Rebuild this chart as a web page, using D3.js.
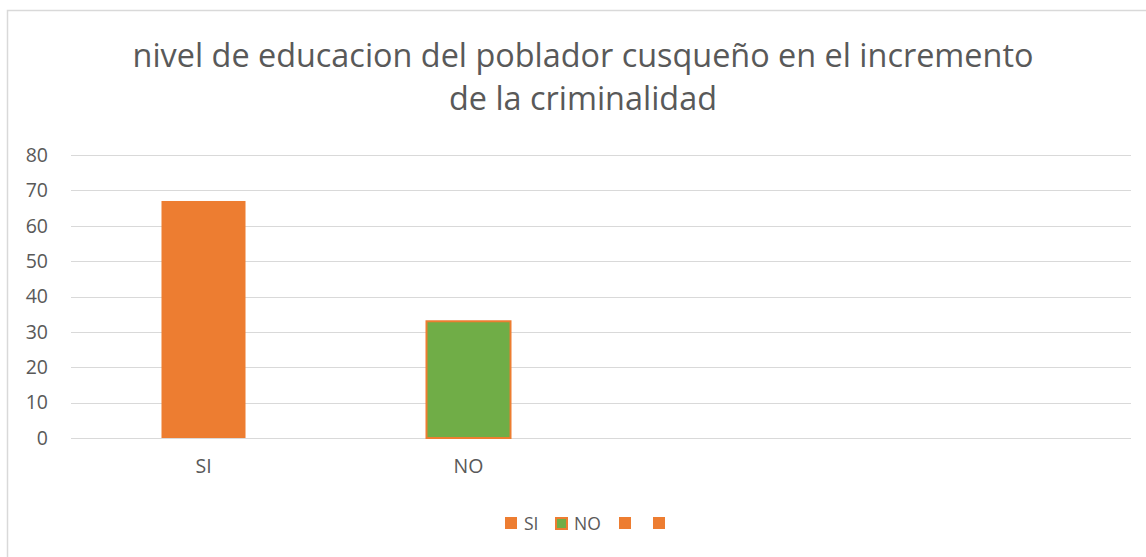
<!DOCTYPE html>
<html>
<head>
<meta charset="utf-8">
<script src="https://cdn.jsdelivr.net/npm/d3@7"></script>
<style>
  body { margin: 0; background: #fff; }
  text { font-family: "Open Sans", sans-serif; fill: #595959; }
</style>
</head>
<body>
<div id="chartDiv"></div>
<script>
var categories = ["SI", "NO", "", ""];
var values = [67, 33, null, null];
var barColors = ["#ED7D31", "#70AD47", "#ED7D31", "#ED7D31"];
var legendLabels = ["SI", "NO", "", ""];
var yTicks = [0, 10, 20, 30, 40, 50, 60, 70, 80];
var titleLines = ["nivel de educacion del poblador cusqueño en el incremento", "de la criminalidad"];

var svg = d3.select("#chartDiv").append("svg")
    .attr("width", 1146)
    .attr("height", 557);

var margin = {top: 155, right: 15, bottom: 119, left: 71};
var width = 1146 - margin.left - margin.right,
    height = 557 - margin.top - margin.bottom;

// chart border
svg.append("rect")
    .attr("x", 7.5).attr("y", 10.5)
    .attr("width", 1160).attr("height", 560)
    .attr("fill", "none")
    .attr("stroke", "#D9D9D9")
    .attr("stroke-width", 1.5);

// title
svg.append("g").selectAll("text").data(titleLines).enter()
    .append("text")
    .attr("x", 583)
    .attr("y", function(d, i) { return 67 + i * 43; })
    .attr("text-anchor", "middle")
    .style("font-size", "32.4px")
    .text(function(d) { return d; });

var chart_svg = svg.append("g")
    .attr("transform", "translate(" + margin.left + "," + margin.top + ")");

var x_scale = d3.scaleBand()
    .domain(d3.range(categories.length))
    .range([0, width])
    .paddingInner(0.683)
    .paddingOuter(0.3415);

var y_scale = d3.scaleLinear()
    .domain([0, 80])
    .range([height, 0]);

// gridlines
chart_svg.append("g").selectAll("line").data(yTicks).enter()
    .append("line")
    .attr("x1", 0).attr("x2", width)
    .attr("y1", function(d) { return Math.round(y_scale(d)) + 0.5; })
    .attr("y2", function(d) { return Math.round(y_scale(d)) + 0.5; })
    .attr("stroke", "#D9D9D9")
    .attr("stroke-width", 1);

// y axis
var yAxis = d3.axisLeft(y_scale).tickValues(yTicks).tickSize(0).tickPadding(23);
var yGroup = chart_svg.append("g").call(yAxis);
yGroup.select(".domain").remove();
yGroup.selectAll("text").style("font-size", "19.5px").attr("fill", "#595959");

// x axis labels
var xAxis = d3.axisBottom(x_scale).tickSize(0).tickPadding(21)
    .tickFormat(function(i) { return categories[i]; });
var xGroup = chart_svg.append("g")
    .attr("transform", "translate(0," + height + ")")
    .call(xAxis);
xGroup.select(".domain").remove();
xGroup.selectAll("text").style("font-size", "19.5px").attr("fill", "#595959");

// bars
var barData = values.map(function(v, i) { return {i: i, v: v}; })
    .filter(function(d) { return d.v != null; });
chart_svg.append("g").selectAll("rect").data(barData).enter()
    .append("rect")
    .attr("x", function(d) { return x_scale(d.i); })
    .attr("y", function(d) { return y_scale(d.v); })
    .attr("width", x_scale.bandwidth())
    .attr("height", function(d) { return height - y_scale(d.v); })
    .attr("fill", function(d) { return barColors[d.i]; })
    .attr("stroke", function(d) { return d.i == 1 ? "#ED7D31" : "none"; })
    .attr("stroke-width", 2);

// legend
var legendX = [505, 555, 619, 653];
var legend = svg.append("g").selectAll("g").data(legendLabels).enter()
    .append("g")
    .attr("transform", function(d, i) { return "translate(" + legendX[i] + ",517)"; });
legend.append("rect")
    .attr("x", function(d, i) { return i == 1 ? 1 : 0; })
    .attr("y", function(d, i) { return i == 1 ? 1 : 0; })
    .attr("width", function(d, i) { return i == 1 ? 11 : 12; })
    .attr("height", function(d, i) { return i == 1 ? 11 : 12; })
    .attr("fill", function(d, i) { return barColors[i]; })
    .attr("stroke", "#ED7D31")
    .attr("stroke-width", function(d, i) { return i == 1 ? 2 : 0; });
legend.append("text")
    .attr("x", 19).attr("y", 13)
    .style("font-size", "17.5px")
    .text(function(d) { return d; });
</script>
</body>
</html>
